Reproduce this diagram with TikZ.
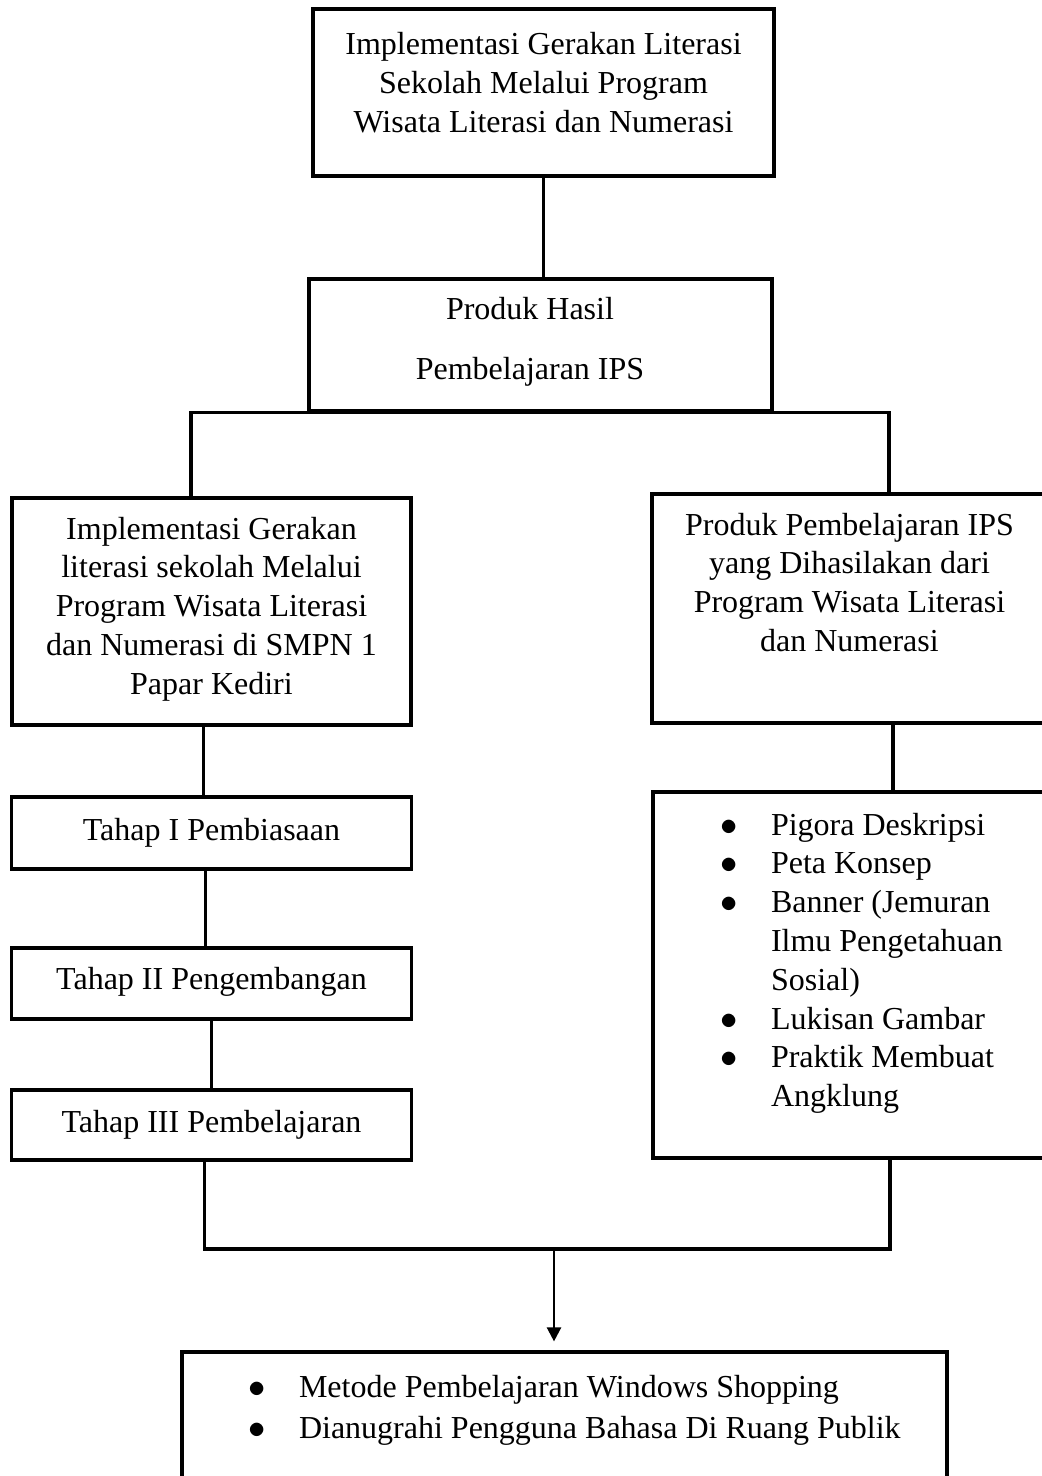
\documentclass[tikz,border=0pt]{standalone}
\usepackage{fontspec}
\setmainfont{Liberation Serif}
\usetikzlibrary{arrows.meta,positioning}

\newcommand{\bulitem}{\makebox[24pt][l]{\hspace*{-1.5pt}$\bullet$}}
\newcommand{\bulcont}{\hspace*{24pt}}

\begin{document}
\begin{tikzpicture}[>={Triangle[length=7pt,width=7pt]},line width=1.6pt]
\tikzstyle{box}=[rectangle,draw,inner sep=0pt,align=flush center,text width=190pt,minimum width=200pt,font=\fontsize{16pt}{19.4pt}\selectfont]
\tikzstyle{listbox}=[box,align=flush left]

\useasboundingbox (0pt,0pt) rectangle (521pt,-738pt);

\node[box]     (A)  at (271.75pt,-46.25pt) [text width=220pt,minimum width=230.5pt,text height=23pt,text depth=60.5pt] {Implementasi Gerakan Literasi\\ Sekolah Melalui Program\\ Wisata Literasi dan Numerasi};
\node[box]     (B)  [below of=A,node distance=126.25pt,xshift=-1.5pt,text width=220pt,minimum width=231.5pt,text height=20.5pt,text depth=45.5pt] {\hspace*{-10.5pt}Produk Hasil\\[10.6pt]\hspace*{-10.5pt}Pembelajaran IPS};
\node[box]     (C)  [below of=B,node distance=133.25pt,xshift=-164.5pt,minimum width=199.5pt,text height=20.5pt,text depth=93pt] {Implementasi Gerakan\\ literasi sekolah Melalui\\ Program Wisata Literasi\\ dan Numerasi di SMPN 1\\ Papar Kediri};
\node[box]     (D)  [right of=C,node distance=319pt,yshift=1.5pt,minimum width=197.5pt,text height=20.5pt,text depth=94pt] {Produk Pembelajaran IPS\\ yang Dihasilakan dari\\ Program Wisata Literasi\\ dan Numerasi};
\node[box]     (T1) [below of=C,node distance=110.75pt,text height=21.5pt,text depth=14.5pt] {Tahap I Pembiasaan};
\node[box]     (T2) [below of=T1,node distance=75.25pt,text height=20.5pt,text depth=15pt] {Tahap II Pengembangan};
\node[box]     (T3) [below of=T2,node distance=70.75pt,text height=21pt,text depth=14pt] {Tahap III Pembelajaran};
\node[listbox] (E)  [below of=D,node distance=183.25pt,xshift=11.75pt,text width=200pt,minimum width=220pt,text height=21.5pt,text depth=161.5pt]
  {\leftskip=25pt
   \bulitem Pigora Deskripsi\\
   \bulitem Peta Konsep\\
   \bulitem Banner (Jemuran\\
   \bulcont Ilmu Pengetahuan\\
   \bulcont Sosial)\\
   \bulitem Lukisan Gambar\\
   \bulitem Praktik Membuat\\
   \bulcont Angklung\par};

\coordinate (join) at (277pt,-624.5pt);
\node[listbox] (F)  [below of=join,node distance=86pt,xshift=5.25pt,text width=350pt,minimum width=382.5pt,text height=22.5pt,text depth=46.5pt]
  {\leftskip=18.25pt
   \bulitem Metode Pembelajaran Windows Shopping\\[1.1pt]
   \bulitem Dianugrahi Pengguna Bahasa Di Ruang Publik\par};

% connectors
\draw (A.south) -- (A.south |- B.north);
\draw ([xshift=-10.25pt]C.north) |- (B.south) -| ([xshift=19.75pt]D.north);
\draw ([xshift=-4pt]C.south) -- ([xshift=-4pt]C.south |- T1.north);
\draw ([xshift=-3pt]T1.south) -- ([xshift=-3pt]T1.south |- T2.north);
\draw (T2.south) -- (T2.south |- T3.north);
\draw ([xshift=21.75pt]D.south) -- ([xshift=21.75pt]D.south |- E.north);
\draw ([xshift=-3.5pt]T3.south) |- (join) -| ([xshift=8.5pt]E.south);
\draw[->,line width=1.2pt,shorten >=4.5pt] (join) -- (join |- F.north);
\end{tikzpicture}
\end{document}
